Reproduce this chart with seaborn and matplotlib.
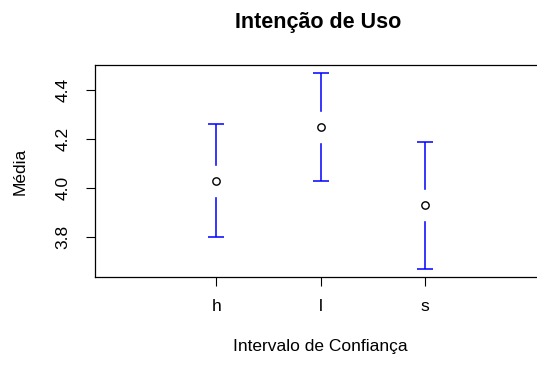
import seaborn as sns
import matplotlib.pyplot as plt
import pandas as pd

grupos = ["h", "l", "s"]
media = [4.03, 4.25, 3.93]
inferior = [3.80, 4.03, 3.67]
superior = [4.26, 4.47, 4.19]

df = pd.DataFrame({"grupo": grupos, "media": media, "inf": inferior, "sup": superior})
df["x"] = range(1, len(grupos) + 1)

sns.set_style("white")
plt.rcParams["font.family"] = ["Liberation Sans", "DejaVu Sans"]
plt.rcParams["text.color"] = "black"
plt.rcParams["axes.labelcolor"] = "black"
plt.rcParams["xtick.color"] = "black"
plt.rcParams["ytick.color"] = "black"

fig = plt.figure(figsize=(5.37, 3.65), dpi=100)
ax = fig.add_axes([0.177, 0.241, 0.840, 0.581])

# barras de erro em azul, com espaço em volta do ponto (como plotCI)
ax.errorbar(df["x"], df["media"],
            yerr=[df["media"] - df["inf"], df["sup"] - df["media"]],
            fmt="none", ecolor="blue", elinewidth=1.1, capsize=6, capthick=1.1)
ax.plot(df["x"], df["media"], "s", ms=21, mfc="white", mec="white", ls="none")
sns.scatterplot(x="x", y="media", data=df, ax=ax, s=28, facecolor="white",
                edgecolor="black", linewidth=1, zorder=5)

ax.set_xlim(-0.16, 4.16)
lo, hi = min(inferior), max(superior)
r = hi - lo
ax.set_ylim(lo - 0.04 * r, hi + 0.04 * r)

ax.set_xticks(df["x"])
ax.set_xticklabels(grupos)
ax.set_yticks([3.8, 4.0, 4.2, 4.4])
ax.set_yticklabels(["3.8", "4.0", "4.2", "4.4"], rotation=90, va="center")
ax.tick_params(axis="both", direction="out", length=6.5, width=0.8,
               labelsize=12.5, pad=9, left=True, bottom=True)
ax.tick_params(axis="y", pad=11)

for s in ax.spines.values():
    s.set_color("black")
    s.set_linewidth(0.9)

ax.set_xlabel("Intervalo de Confiança", fontsize=12.5, labelpad=18)
ax.set_ylabel("Média", fontsize=12.5, labelpad=20)
fig.text(0.592, 0.938, "Intenção de Uso", fontsize=15.5, fontweight="bold",
         ha="center", va="center")

fig.savefig("out.png", dpi=100)
